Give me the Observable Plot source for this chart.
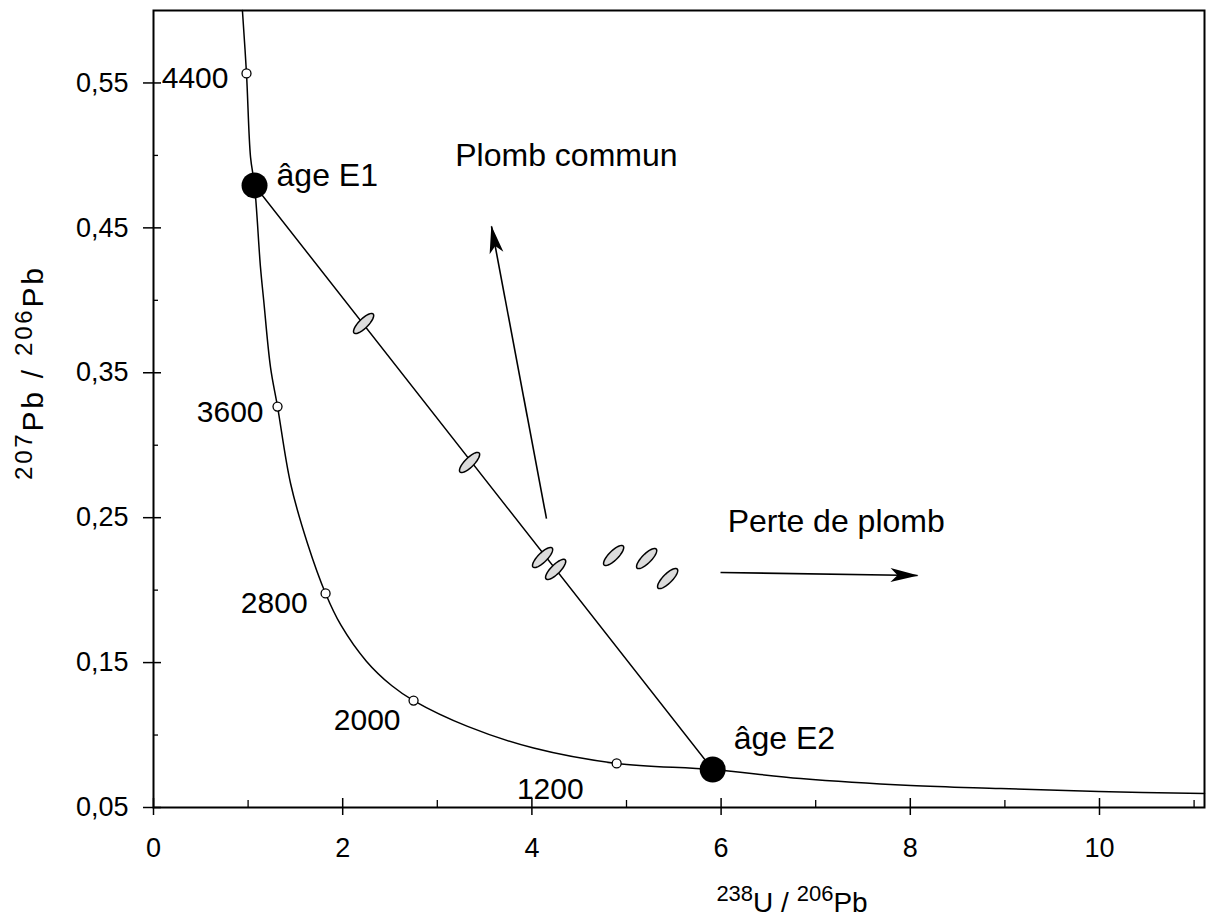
<!DOCTYPE html>
<html>
<head>
<meta charset="utf-8">
<script src="https://cdn.jsdelivr.net/npm/d3@7"></script>
<script src="https://cdn.jsdelivr.net/npm/@observablehq/plot@0.6"></script>
<style>
  body { margin: 0; background: #fff; }
  svg { display: block; }
</style>
</head>
<body>
<div id="chart"></div>
<script>
// ---------- data ----------
// Concordia curve (238U/206Pb, 207Pb/206Pb)
const concordiaX = [0.94, 0.983, 1.026, 1.068, 1.131, 1.165, 1.237, 1.311, 1.449, 1.628, 1.819, 1.98, 2.25, 2.52, 2.749, 3.32, 4.018, 4.896, 5.911, 6.841, 8.005, 8.956, 9.992, 11.11];
const concordiaY = [0.600, 0.5566, 0.4986, 0.4793, 0.4227, 0.3999, 0.3537, 0.3267, 0.2736, 0.2322, 0.1977, 0.176, 0.151, 0.134, 0.1238, 0.106, 0.0910, 0.0804, 0.0762, 0.0700, 0.0652, 0.0631, 0.0610, 0.0597];

// Age marks on the concordia (Ma)
const ageLabels = ["4400", "3600", "2800", "2000", "1200"];
const ageX = [0.983, 1.311, 1.819, 2.749, 4.896];
const ageY = [0.5566, 0.3267, 0.1977, 0.1238, 0.0804];

// Intercepts (discordia end points)
const interceptLabels = ["âge E1", "âge E2"];
const interceptX = [1.068, 5.911];
const interceptY = [0.4793, 0.0762];

// Analyses (ellipse centres)
const analysisX = [2.221, 3.341, 4.113, 4.251, 4.864, 5.213, 5.435];
const analysisY = [0.3840, 0.2881, 0.2225, 0.2143, 0.2239, 0.2218, 0.2080];

// Arrows
const arrowNames = ["Plomb commun", "Perte de plomb"];
const arrowX1 = [4.154, 5.994];
const arrowY1 = [0.2494, 0.2122];
const arrowX2 = [3.573, 8.076];
const arrowY2 = [0.4510, 0.2101];
const arrowTextX = [3.19, 6.07];
const arrowTextY = [0.500, 0.2474];

// Ticks
const xMajor = [0, 2, 4, 6, 8, 10];
const xMinor = [1, 3, 5, 7, 9, 11];
const yMajor = [0.05, 0.15, 0.25, 0.35, 0.45, 0.55];
const yMinor = [0.10, 0.20, 0.30, 0.40, 0.50];

// ---------- layout / style ----------
const FONT = "'Liberation Sans', Arial, Helvetica, sans-serif";
const W = 1209, H = 916;
const mL = 153, mR = 5, mT = 10, mB = 109;
const xDomain = [0, 11.11], yDomain = [0.05, 0.60];
const pxX = (xDomain[1] - xDomain[0]) / (W - mL - mR);
const pxY = (yDomain[1] - yDomain[0]) / (H - mT - mB);

// label offsets for age marks (px)
const ageOffsets = {"4400": [-18, 5], "3600": [-14, 6], "2800": [-18, 10], "2000": [-13, 20], "1200": [-33, 26]};
const interceptOffsets = {"âge E1": [22, -10], "âge E2": [21, -31]};

const concordia = concordiaX.map((x, i) => ({x, y: concordiaY[i]}));
const ages = ageLabels.map((label, i) => ({label, x: ageX[i], y: ageY[i]}));
const intercepts = interceptLabels.map((label, i) => ({label, x: interceptX[i], y: interceptY[i]}));
const analyses = analysisX.map((x, i) => ({x, y: analysisY[i]}));
const arrows = arrowNames.map((name, i) => ({name, x1: arrowX1[i], y1: arrowY1[i], x2: arrowX2[i], y2: arrowY2[i], tx: arrowTextX[i], ty: arrowTextY[i]}));

// ellipse symbol (analysis error ellipse)
const ellipseSymbol = {
  draw(context) {
    const a = 13.5, b = 4.6, th = -45 * Math.PI / 180;
    const n = 48;
    for (let i = 0; i <= n; i++) {
      const t = (i / n) * 2 * Math.PI;
      const ex = a * Math.cos(t), ey = b * Math.sin(t);
      const px = ex * Math.cos(th) - ey * Math.sin(th);
      const py = ex * Math.sin(th) + ey * Math.cos(th);
      if (i === 0) context.moveTo(px, py); else context.lineTo(px, py);
    }
    context.closePath();
  }
};

// filled, swept arrowhead marker
function filledArrow(color) {
  const ns = "http://www.w3.org/2000/svg";
  const m = document.createElementNS(ns, "marker");
  m.setAttribute("viewBox", "-29 -8 31 16");
  m.setAttribute("markerWidth", 31);
  m.setAttribute("markerHeight", 16);
  m.setAttribute("markerUnits", "userSpaceOnUse");
  m.setAttribute("orient", "auto");
  m.setAttribute("refX", 0);
  m.setAttribute("refY", 0);
  const p = document.createElementNS(ns, "path");
  p.setAttribute("d", "M1,0L-27,-7L-20,0L-27,7Z");
  p.setAttribute("fill", color === "currentColor" ? "black" : color);
  p.setAttribute("stroke", "none");
  m.appendChild(p);
  return m;
}

const fmtY = d => d3.format(".2f")(d).replace(".", ",");

const plot = Plot.plot({
  width: W,
  height: H,
  marginLeft: mL,
  marginRight: mR,
  marginTop: mT,
  marginBottom: mB,
  style: {fontFamily: FONT, fontSize: "27px", color: "black", background: "white", overflow: "visible"},
  x: {domain: xDomain, label: null},
  y: {domain: yDomain, label: null},
  marks: [
    Plot.frame({stroke: "black", strokeWidth: 2}),
    Plot.axisX(xMajor, {anchor: "bottom", tickSize: 8, tickPadding: 22, strokeWidth: 1.5, fontSize: 27, tickFormat: d => String(d), label: null}),
    Plot.axisY(yMajor, {anchor: "left", tickSize: 10, tickPadding: 15, strokeWidth: 1.5, fontSize: 27, tickFormat: fmtY, label: null}),
    Plot.ruleX(xMajor, {y1: yDomain[0], y2: yDomain[0] + 9 * pxY, stroke: "black", strokeWidth: 1.5}),
    Plot.ruleX(xMinor, {y1: yDomain[0], y2: yDomain[0] + 7 * pxY, stroke: "black", strokeWidth: 1.3}),
    Plot.ruleY(yMajor, {x1: xDomain[0], x2: xDomain[0] + 8 * pxX, stroke: "black", strokeWidth: 1.5}),
    Plot.ruleY(yMinor, {x1: xDomain[0], x2: xDomain[0] + 5 * pxX, stroke: "black", strokeWidth: 1.3}),
    // concordia
    Plot.line(concordia, {x: "x", y: "y", curve: "catmull-rom", stroke: "black", strokeWidth: 1.5}),
    // discordia
    Plot.line(intercepts, {x: "x", y: "y", stroke: "black", strokeWidth: 1.5}),
    // arrows
    Plot.link(arrows, {x1: "x1", y1: "y1", x2: "x2", y2: "y2", stroke: "black", strokeWidth: 1.6, markerEnd: filledArrow}),
    Plot.text(arrows, {x: "tx", y: "ty", text: "name", textAnchor: "start", fontSize: 32, fill: "black"}),
    // analyses
    Plot.dot(analyses, {x: "x", y: "y", symbol: ellipseSymbol, r: 5, fill: "#dcdcdc", stroke: "black", strokeWidth: 1.5}),
    // age marks
    Plot.dot(ages, {x: "x", y: "y", r: 4.5, fill: "white", stroke: "black", strokeWidth: 1.3}),
    ...ageLabels.map(lab => Plot.text(ages.filter(d => d.label === lab), {
      x: "x", y: "y", text: "label", textAnchor: "end", fontSize: 30, fill: "black",
      dx: ageOffsets[lab][0], dy: ageOffsets[lab][1]
    })),
    // intercepts
    Plot.dot(intercepts, {x: "x", y: "y", r: 13, fill: "black", stroke: "none"}),
    ...interceptLabels.map(lab => Plot.text(intercepts.filter(d => d.label === lab), {
      x: "x", y: "y", text: "label", textAnchor: "start", fontSize: 32, fill: "black",
      dx: interceptOffsets[lab][0], dy: interceptOffsets[lab][1]
    }))
  ]
});

// axis titles with superscripts
const svg = d3.select(plot);
function addTitle(parts, transform, mainSize, supSize, length) {
  const t = svg.append("text")
    .attr("transform", transform)
    .attr("text-anchor", "middle")
    .attr("font-family", FONT)
    .attr("fill", "black");
  if (length) t.attr("textLength", length).attr("lengthAdjust", "spacing");
  let raised = false;
  for (const [s, sup] of parts) {
    const span = t.append("tspan").text(s).attr("font-size", sup ? supSize : mainSize);
    if (sup && !raised) { span.attr("dy", -11); raised = true; }
    else if (!sup && raised) { span.attr("dy", 11); raised = false; }
  }
  return t;
}
addTitle([["238", true], ["U / ", false], ["206", true], ["Pb", false]], "translate(792,912)", 28, 22, null);
addTitle([["207", true], ["Pb / ", false], ["206", true], ["Pb", false]], "translate(43,374) rotate(-90)", 30, 24, 212);

document.getElementById("chart").appendChild(plot);
</script>
</body>
</html>
